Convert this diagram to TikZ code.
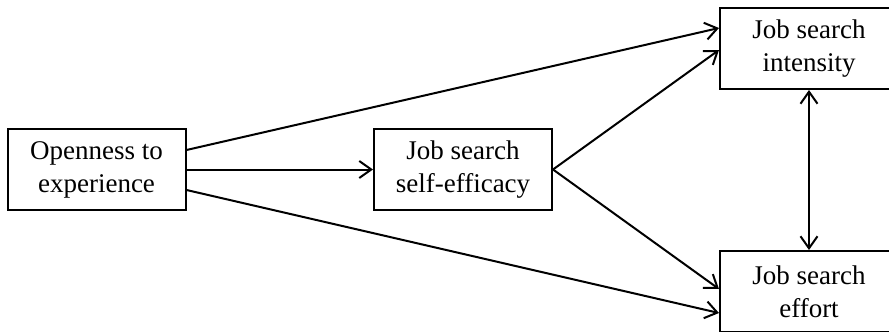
\documentclass[tikz,border=0pt]{standalone}
\usepackage{fontspec}
\setmainfont{Liberation Serif}
\usetikzlibrary{arrows.meta}
\begin{document}
\begin{tikzpicture}[x=1pt,y=-1pt,
  box/.style={draw, line width=2pt, rectangle, minimum width=178pt, minimum height=81pt,
    align=center, inner sep=0pt, font=\fontsize{27}{33}\selectfont},
  tip/.style={Straight Barb[length=12pt,width=17pt,line width=2pt]},
  link/.style={line width=2pt, -{Straight Barb[length=12pt,width=17pt,line width=2pt]}},
  twoway/.style={line width=2pt, {Straight Barb[length=12pt,width=17pt,line width=2pt]}-{Straight Barb[length=12pt,width=17pt,line width=2pt]}}]
  \useasboundingbox (0,0) rectangle (889,332);
  \begin{scope}
    \clip (0,0) rectangle (889,332);
    % constructs
    \node[box] (open) at (96.5,169.5) {\raisebox{-2pt}{Openness to}\\\raisebox{-2pt}{experience}};
    \node[box] (eff)  at (463,169.5) {\raisebox{-2pt}{Job search}\\\raisebox{-2pt}{self-efficacy}};
    \node[box] (int)  at (809,48.5) {\raisebox{-2pt}{Job search}\\\raisebox{-2pt}{intensity}};
    \node[box] (eft)  at (809,291.5) {\raisebox{-2pt}{Job search}\\\raisebox{-2pt}{effort}};
    % paths
    \draw[link] ([yshift=19.5pt]open.east) -- ([yshift=20.5pt]int.west);
    \draw[link] (open.east) -- (eff.west);
    \draw[link] ([yshift=-20.5pt]open.east) -- ([yshift=-21.5pt]eft.west);
    \draw[link] (eff.east) -- ([yshift=-1.5pt]int.west);
    \draw[link] (eff.east) -- ([yshift=2.5pt]eft.west);
    \draw[twoway] (int.south) -- (eft.north);
  \end{scope}
\end{tikzpicture}
\end{document}
